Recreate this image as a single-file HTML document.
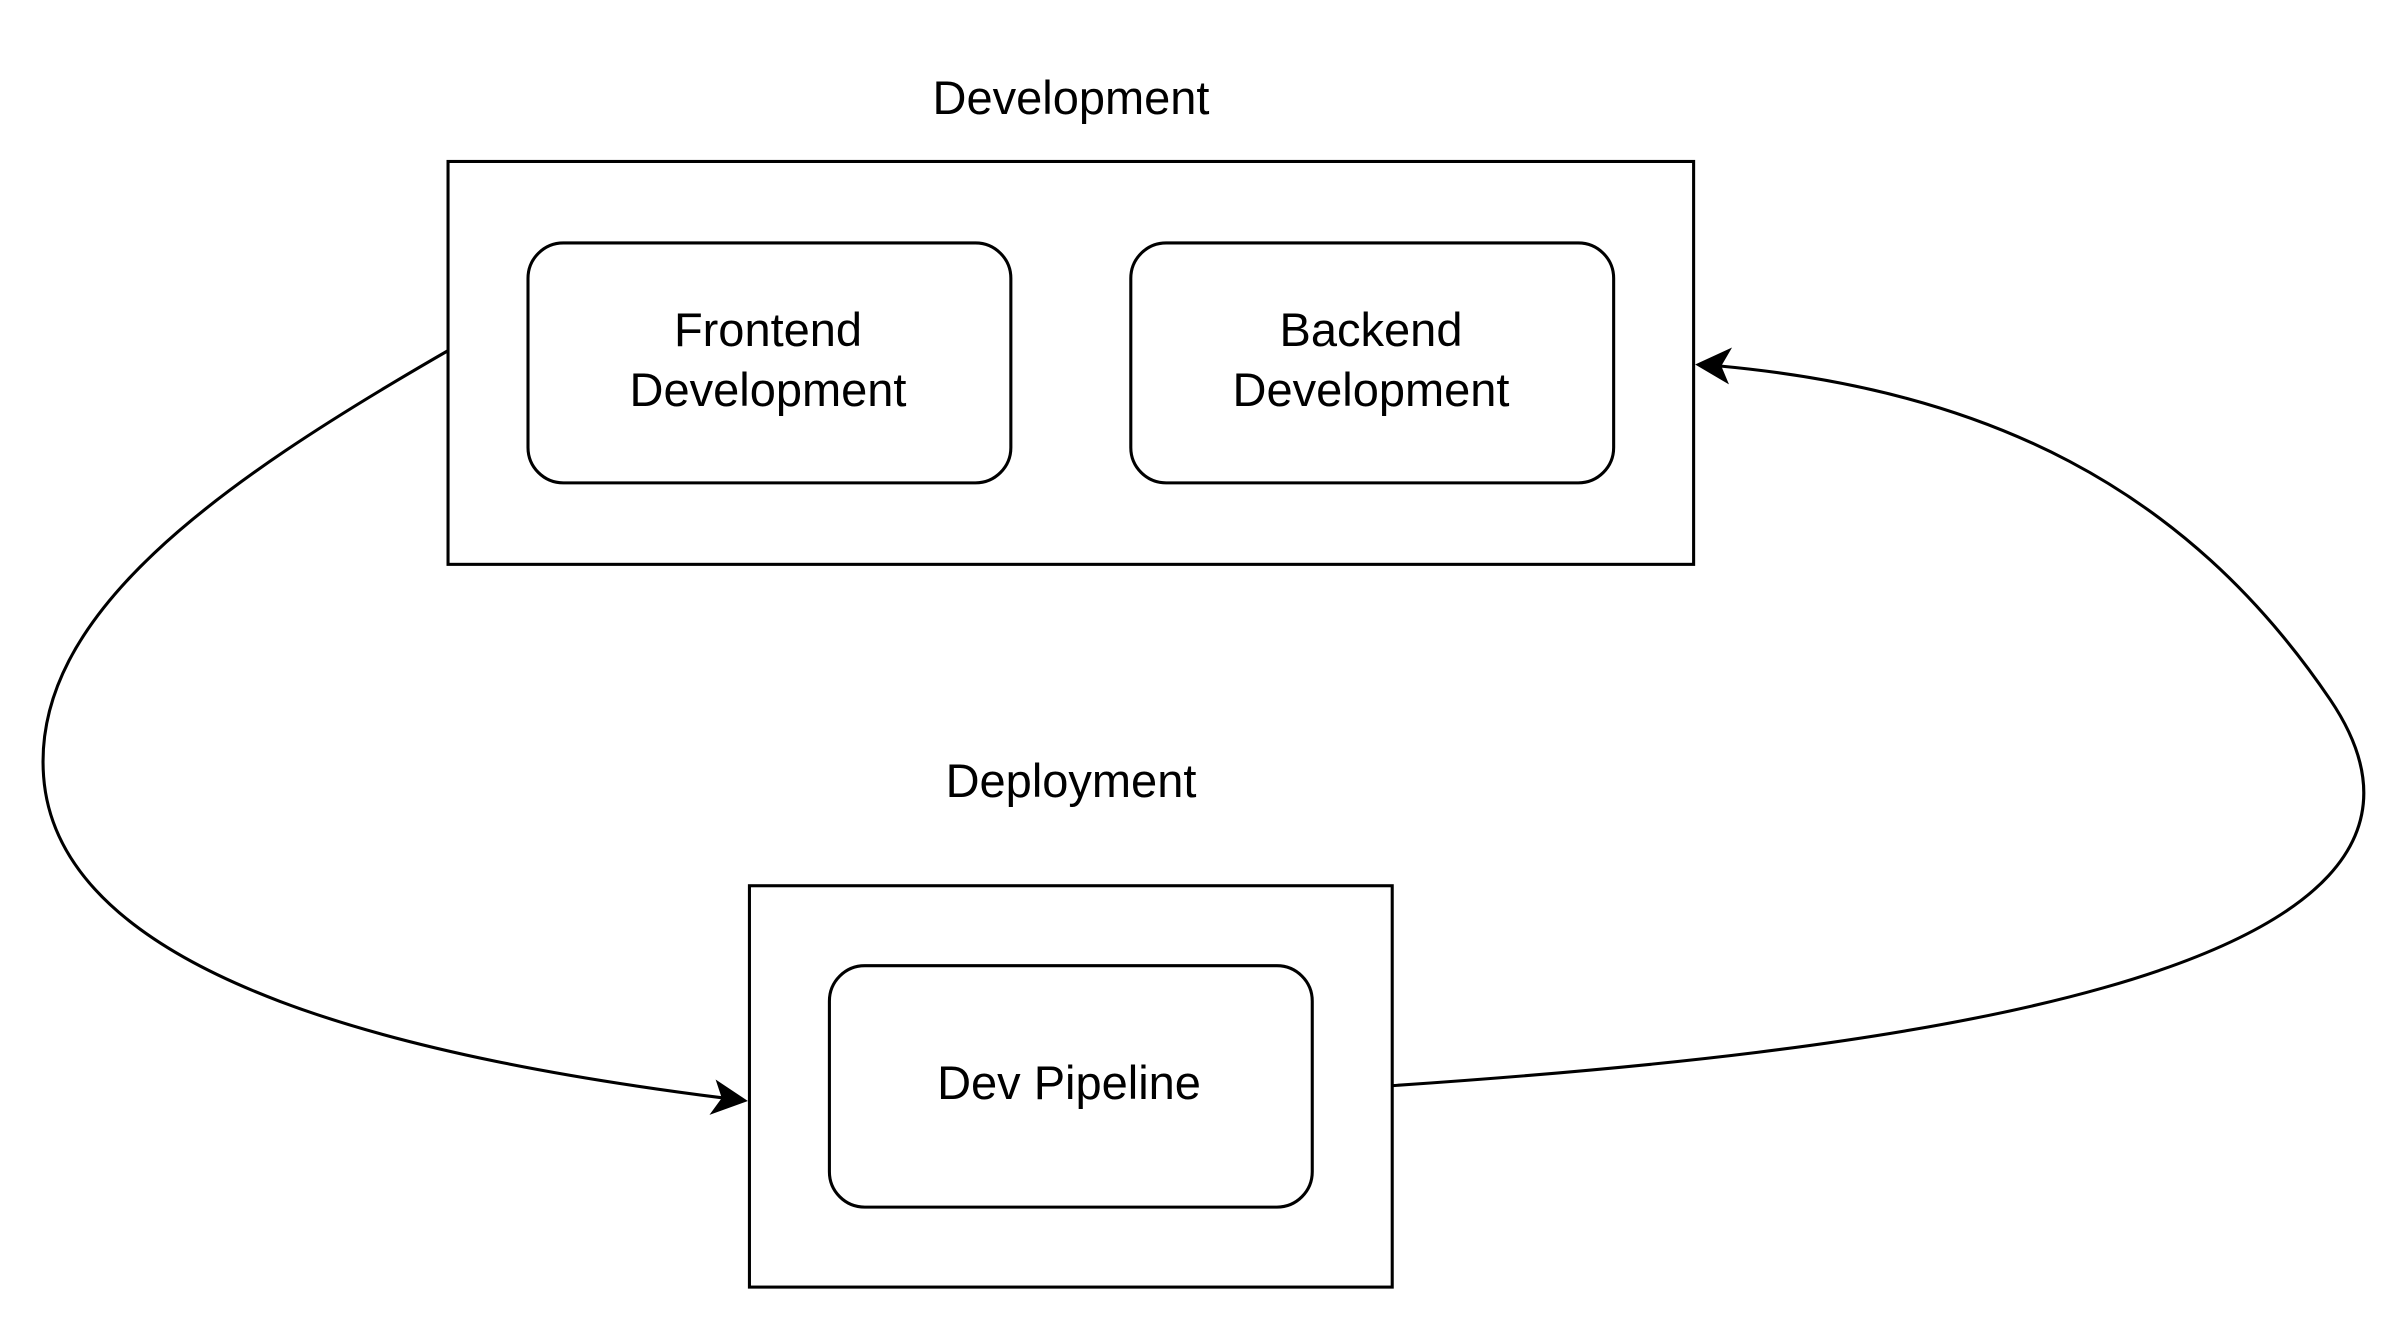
<!DOCTYPE html>
<html><head><style>html,body{margin:0;padding:0;background:#fff}svg{display:block;position:absolute;left:0;top:0}
.t{position:absolute;font-family:"Liberation Sans",sans-serif;font-size:47px;line-height:48px;color:#000;white-space:nowrap;transform:translateX(-50%)}
</style></head>
<body>
<div style="position:relative;width:2400px;height:1324px;overflow:hidden">
<svg width="2400" height="1324" viewBox="0 0 1560 861" xmlns="http://www.w3.org/2000/svg">
<rect x="0" y="0" width="1560" height="861" fill="#fff"/>
<g fill="none" stroke="#000" stroke-width="2">
<rect x="291" y="105" width="810" height="262"/>
<rect x="343" y="158" width="314" height="156" rx="23"/>
<rect x="735" y="158" width="314" height="156" rx="23"/>
<rect x="487" y="576" width="418" height="261"/>
<rect x="539" y="628" width="314" height="157" rx="23"/>
<path d="M291 228 C 140 315, 20 400, 28 505 C 38 640, 280 690, 470 714"/>
<path d="M905 706 C 1200 686, 1640 640, 1515 455 C 1420 315, 1290 254, 1118 238"/>
</g>
<path d="M486 716 L461 725 L469 714 L465 702 Z" fill="#000"/>
<path d="M1102 237 L1126 226 L1119 238 L1124 250 Z" fill="#000"/>
</svg>
<div class="t" style="left:1071px;top:74px">Development</div>
<div class="t" style="left:1071px;top:757px">Deployment</div>
<div class="t" style="left:768px;top:306px">Frontend</div>
<div class="t" style="left:768px;top:366px">Development</div>
<div class="t" style="left:1371px;top:306px">Backend</div>
<div class="t" style="left:1371px;top:366px">Development</div>
<div class="t" style="left:1069px;top:1059px">Dev Pipeline</div>
</div>
</body></html>
